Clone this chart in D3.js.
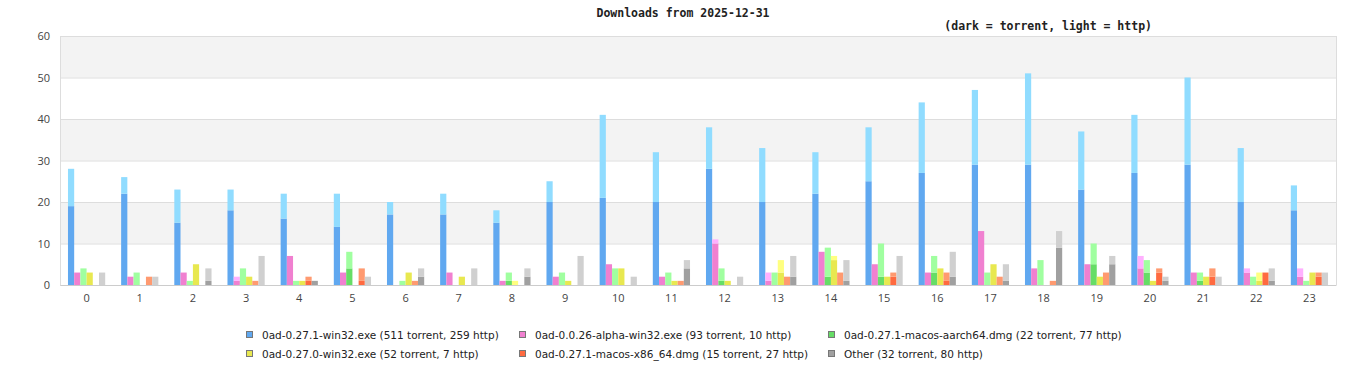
<!DOCTYPE html>
<html><head><meta charset="utf-8">
<script src="https://cdn.jsdelivr.net/npm/d3@7"></script>
<style>
body{margin:0;background:#fff;}
svg{display:block;}
</style></head>
<body>
<svg id="chart" width="1366" height="380"></svg>
<script>
const hours = ["0","1","2","3","4","5","6","7","8","9","10","11","12","13","14","15","16","17","18","19","20","21","22","23"];
const seriesNames = [
  "0ad-0.27.1-win32.exe (511 torrent, 259 http)",
  "0ad-0.0.26-alpha-win32.exe (93 torrent, 10 http)",
  "0ad-0.27.1-macos-aarch64.dmg (22 torrent, 77 http)",
  "0ad-0.27.0-win32.exe (52 torrent, 7 http)",
  "0ad-0.27.1-macos-x86_64.dmg (15 torrent, 27 http)",
  "Other (32 torrent, 80 http)"
];
const yTicks = [0,10,20,30,40,50,60];
// torrent (dark) and http (light) per hour
const win271Torrent   = [19,22,15,18,16,14,17,17,15,20,21,20,28,20,22,25,27,29,29,23,27,29,20,18];
const win271Http      = [9,4,8,5,6,8,3,5,3,5,20,12,10,13,10,13,17,18,22,14,14,21,13,6];
const alpha26Torrent  = [3,2,3,1,7,3,0,3,1,2,5,2,10,1,8,5,3,13,4,5,4,3,3,2];
const alpha26Http     = [0,0,0,1,0,0,0,0,0,0,0,0,1,2,0,0,0,0,0,0,3,0,1,2];
const aarch64Torrent  = [0,0,0,0,0,4,0,0,1,0,0,0,1,0,2,2,3,0,0,5,3,1,0,0];
const aarch64Http     = [4,3,1,4,1,4,1,0,2,3,4,3,3,3,7,8,4,3,6,5,3,2,2,1];
const win270Torrent   = [3,0,5,2,1,0,3,2,0,1,4,1,1,3,6,2,4,5,0,2,1,2,1,3];
const win270Http      = [0,0,0,0,0,0,0,0,1,0,0,0,0,3,1,0,0,0,0,0,0,0,2,0];
const x8664Torrent    = [0,0,0,0,1,1,0,0,0,0,0,0,0,0,0,2,1,0,0,0,3,2,3,2];
const x8664Http       = [0,2,0,1,1,3,1,0,0,0,0,1,0,2,3,1,2,2,1,3,1,2,0,1];
const otherTorrent    = [0,0,1,0,1,0,2,0,2,0,0,4,0,2,1,0,2,1,9,5,1,0,1,0];
const otherHttp       = [3,2,3,7,0,2,2,4,2,7,2,2,2,5,5,7,6,4,4,2,1,2,3,3];

const torrentSets = [win271Torrent, alpha26Torrent, aarch64Torrent, win270Torrent, x8664Torrent, otherTorrent];
const httpSets    = [win271Http, alpha26Http, aarch64Http, win270Http, x8664Http, otherHttp];
const darkColors  = ["#60a8f0","#f080d0","#66dd66","#e8e850","#ff6a40","#a0a0a0"];
const lightColors = ["#90dcff","#ffb0ff","#a0ffa0","#ffff80","#ff9a70","#d0d0d0"];

const svg = d3.select("#chart");
const L = 60, R = 1336, T = 36, B = 285;

const x0 = d3.scaleBand().domain(hours).range([L, R]).paddingInner(0.3).paddingOuter(0.15);
const x1 = d3.scaleBand().domain(d3.range(seriesNames.length)).range([0, x0.bandwidth()]);
const y = d3.scaleLinear().domain([0, 60]).range([B, T]);

// alternating bands
const bands = d3.pairs(yTicks);
svg.append("g").selectAll("rect").data(bands).join("rect")
  .attr("x", L).attr("width", R - L)
  .attr("y", d => y(d[1])).attr("height", d => y(d[0]) - y(d[1]))
  .attr("fill", (d,i) => (i % 2 === 1) ? "#f3f3f3" : "#ffffff");

// gridlines
svg.append("g").selectAll("line").data(yTicks).join("line")
  .attr("x1", L).attr("x2", R)
  .attr("y1", d => y(d) + 0.5).attr("y2", d => y(d) + 0.5)
  .attr("stroke", "#dddddd");
svg.append("line").attr("x1", L + 0.5).attr("x2", L + 0.5).attr("y1", T).attr("y2", B)
  .attr("stroke", "#dddddd");
svg.append("line").attr("x1", R + 0.5).attr("x2", R + 0.5).attr("y1", T).attr("y2", B)
  .attr("stroke", "#dddddd");

// y axis
const yAxis = d3.axisLeft(y).tickValues(yTicks).tickSize(0).tickPadding(10);
const gy = svg.append("g").attr("transform", `translate(${L},0)`).call(yAxis);
gy.select(".domain").remove();
gy.selectAll("text").attr("font-family", "Open Sans, sans-serif").attr("font-size", 11).attr("fill", "#444");

// x axis
const xAxis = d3.axisBottom(x0).tickSize(0).tickPadding(9);
const gx = svg.append("g").attr("transform", `translate(0,${B})`).call(xAxis);
gx.select(".domain").attr("stroke", "#cccccc");
gx.selectAll("text").attr("font-family", "Open Sans, sans-serif").attr("font-size", 11).attr("fill", "#444");

// bars
const groups = svg.append("g").selectAll("g").data(hours).join("g")
  .attr("transform", d => `translate(${x0(d)},0)`);
groups.each(function(h, hi) {
  const g = d3.select(this);
  seriesNames.forEach((s, si) => {
    const t = torrentSets[si][hi], ht = httpSets[si][hi];
    if (t > 0) g.append("rect").attr("x", x1(si)).attr("width", x1.bandwidth())
      .attr("y", y(t)).attr("height", y(0) - y(t)).attr("fill", darkColors[si]);
    if (ht > 0) g.append("rect").attr("x", x1(si)).attr("width", x1.bandwidth())
      .attr("y", y(t + ht)).attr("height", y(t) - y(t + ht)).attr("fill", lightColors[si]);
  });
});

// title
svg.append("text").attr("x", 683).attr("y", 17).attr("text-anchor", "middle")
  .attr("font-family", "DejaVu Sans Mono, monospace").attr("font-weight", "bold")
  .attr("font-size", 11.5).attr("fill", "#222").text("Downloads from 2025-12-31");
svg.append("text").attr("x", 1152).attr("y", 30).attr("text-anchor", "end")
  .attr("font-family", "DejaVu Sans Mono, monospace").attr("font-weight", "bold")
  .attr("font-size", 11.5).attr("fill", "#222").text("(dark = torrent, light = http)");

// legend
const legCols = [246, 519, 828];
const legRows = [335, 354];
const leg = svg.append("g").selectAll("g").data(seriesNames).join("g")
  .attr("transform", (d,i) => `translate(${legCols[i % 3]},${legRows[Math.floor(i / 3)]})`);
leg.append("rect").attr("x", 0.5).attr("y", -3.5).attr("width", 6).attr("height", 6)
  .attr("fill", (d,i) => darkColors[i]).attr("stroke", "#777").attr("stroke-width", 1);
leg.append("text").attr("x", 16).attr("y", 4)
  .attr("font-family", "DejaVu Sans, sans-serif").attr("font-size", 10.5)
  .attr("fill", "#222").text(d => d);
</script>
</body></html>
